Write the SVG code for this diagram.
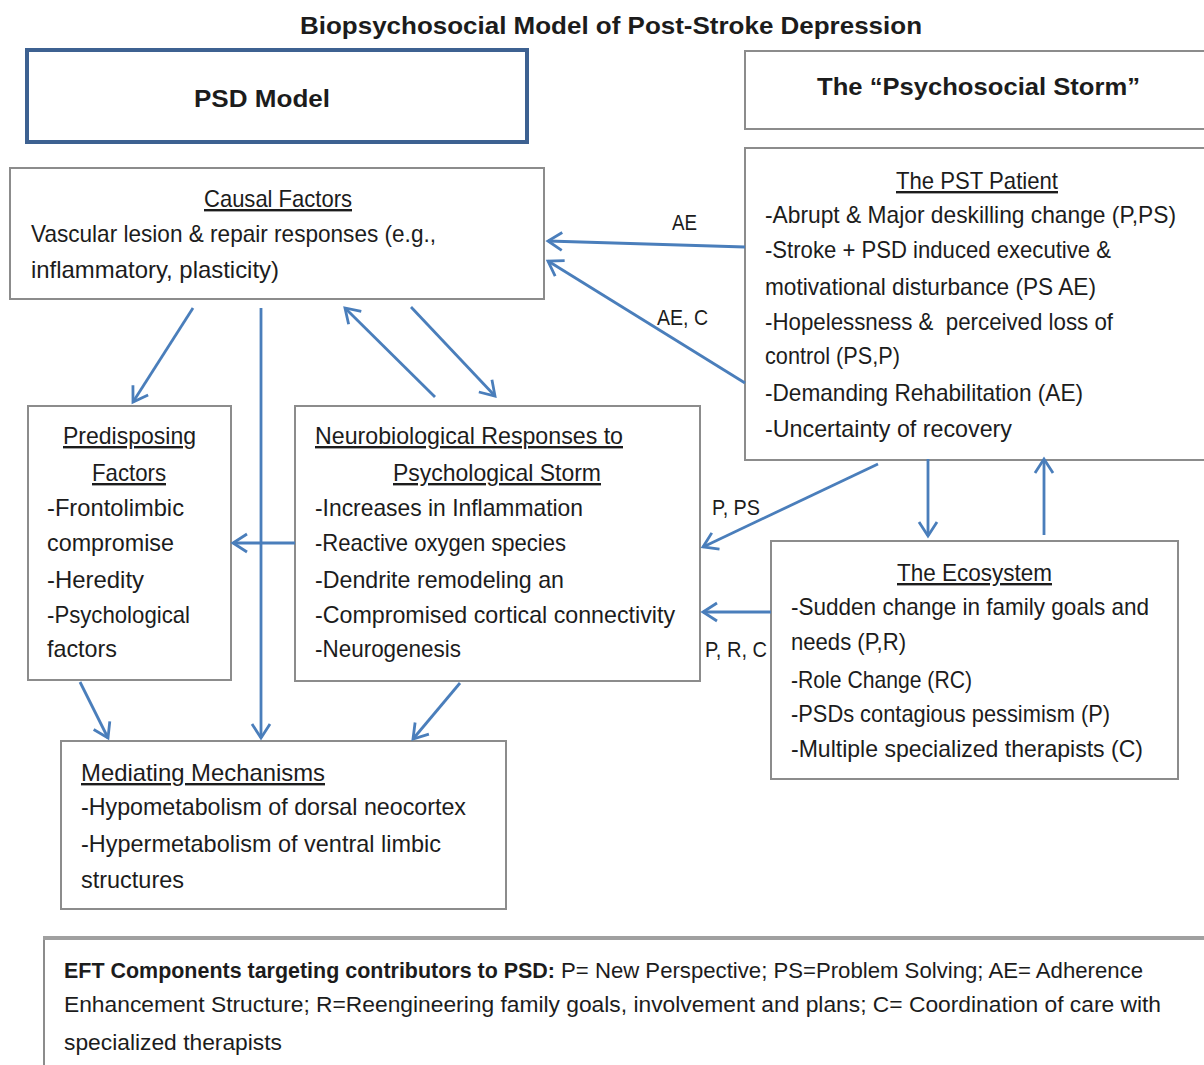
<svg xmlns="http://www.w3.org/2000/svg" width="1204" height="1065" viewBox="0 0 1204 1065">
<defs>
<style>
text{font-family:"Liberation Sans",Arial,sans-serif;font-size:24px;fill:#1c1c1c}
.b{font-weight:bold}
.u{text-decoration:underline}
.box{fill:#fff;stroke:#8c8c8c;stroke-width:2}
.c{fill:none;stroke:#4a7ebb;stroke-width:2.8;marker-end:url(#ah)}
.lbl{font-size:22px}
.eft{font-size:22px}
</style>
<marker id="ah" markerUnits="userSpaceOnUse" viewBox="-16 -12 20 24" markerWidth="20" markerHeight="24" refX="0" refY="0" orient="auto">
<path d="M-14,-9 L0,0 L-14,9" fill="none" stroke="#4a7ebb" stroke-width="2.8"/>
</marker>
</defs>
<rect width="1204" height="1065" fill="#fff"/>

<text id="title" class="b" x="300" y="34" font-size="27" textLength="622" lengthAdjust="spacingAndGlyphs">Biopsychosocial Model of Post-Stroke Depression</text>

<g id="psd-model">
<rect x="27" y="50" width="500" height="92" fill="#fff" stroke="#3d6191" stroke-width="4"/>
<text class="b" x="194" y="107" font-size="29" textLength="136" lengthAdjust="spacingAndGlyphs">PSD Model</text>
</g>

<g id="psychosocial-storm">
<path d="M1204,51 H745 V129 H1204" class="box"/>
<text class="b" x="817" y="95" font-size="29" textLength="323" lengthAdjust="spacingAndGlyphs">The “Psychosocial Storm”</text>
</g>

<g id="causal-factors">
<rect x="10" y="168" width="534" height="131" class="box"/>
<text class="u" x="204" y="207" textLength="148" lengthAdjust="spacingAndGlyphs">Causal Factors</text>
<text x="31" y="242" textLength="405" lengthAdjust="spacingAndGlyphs">Vascular lesion &amp; repair responses (e.g.,</text>
<text x="31" y="278" textLength="248" lengthAdjust="spacingAndGlyphs">inflammatory, plasticity)</text>
</g>

<g id="pst-patient">
<path d="M1204,148 H745 V460 H1204" class="box"/>
<text class="u" x="896" y="189" textLength="162" lengthAdjust="spacingAndGlyphs">The PST Patient</text>
<text x="765" y="223" textLength="411" lengthAdjust="spacingAndGlyphs">-Abrupt &amp; Major deskilling change (P,PS)</text>
<text x="765" y="258" textLength="346" lengthAdjust="spacingAndGlyphs">-Stroke + PSD induced executive &amp;</text>
<text x="765" y="295" textLength="331" lengthAdjust="spacingAndGlyphs">motivational disturbance (PS AE)</text>
<text x="765" y="330" textLength="348" lengthAdjust="spacingAndGlyphs" xml:space="preserve">-Hopelessness &amp;  perceived loss of</text>
<text x="765" y="364" textLength="135" lengthAdjust="spacingAndGlyphs">control (PS,P)</text>
<text x="765" y="401" textLength="318" lengthAdjust="spacingAndGlyphs">-Demanding Rehabilitation (AE)</text>
<text x="765" y="437" textLength="247" lengthAdjust="spacingAndGlyphs">-Uncertainty of recovery</text>
</g>

<g id="predisposing-factors">
<rect x="28" y="406" width="203" height="274" class="box"/>
<text class="u" x="63" y="444" textLength="133" lengthAdjust="spacingAndGlyphs">Predisposing</text>
<text class="u" x="92" y="481" textLength="74" lengthAdjust="spacingAndGlyphs">Factors</text>
<text x="47" y="516" textLength="137" lengthAdjust="spacingAndGlyphs">-Frontolimbic</text>
<text x="47" y="551" textLength="127" lengthAdjust="spacingAndGlyphs">compromise</text>
<text x="47" y="588" textLength="97" lengthAdjust="spacingAndGlyphs">-Heredity</text>
<text x="47" y="623" textLength="143" lengthAdjust="spacingAndGlyphs">-Psychological</text>
<text x="47" y="657" textLength="70" lengthAdjust="spacingAndGlyphs">factors</text>
</g>

<g id="neurobiological-responses">
<rect x="295" y="406" width="405" height="275" class="box"/>
<text class="u" x="315" y="444" textLength="308" lengthAdjust="spacingAndGlyphs">Neurobiological Responses to</text>
<text class="u" x="393" y="481" textLength="208" lengthAdjust="spacingAndGlyphs">Psychological Storm</text>
<text x="315" y="516" textLength="268" lengthAdjust="spacingAndGlyphs">-Increases in Inflammation</text>
<text x="315" y="551" textLength="251" lengthAdjust="spacingAndGlyphs">-Reactive oxygen species</text>
<text x="315" y="588" textLength="249" lengthAdjust="spacingAndGlyphs">-Dendrite remodeling an</text>
<text x="315" y="623" textLength="360" lengthAdjust="spacingAndGlyphs">-Compromised cortical connectivity</text>
<text x="315" y="657" textLength="146" lengthAdjust="spacingAndGlyphs">-Neurogenesis</text>
</g>

<g id="ecosystem">
<rect x="771" y="541" width="407" height="238" class="box"/>
<text class="u" x="897" y="581" textLength="155" lengthAdjust="spacingAndGlyphs">The Ecosystem</text>
<text x="791" y="615" textLength="358" lengthAdjust="spacingAndGlyphs">-Sudden change in family goals and</text>
<text x="791" y="650" textLength="115" lengthAdjust="spacingAndGlyphs">needs (P,R)</text>
<text x="791" y="688" textLength="181" lengthAdjust="spacingAndGlyphs">-Role Change (RC)</text>
<text x="791" y="722" textLength="319" lengthAdjust="spacingAndGlyphs">-PSDs contagious pessimism (P)</text>
<text x="791" y="757" textLength="352" lengthAdjust="spacingAndGlyphs">-Multiple specialized therapists (C)</text>
</g>

<g id="mediating-mechanisms">
<rect x="61" y="741" width="445" height="168" class="box"/>
<text class="u" x="81" y="781" textLength="244" lengthAdjust="spacingAndGlyphs">Mediating Mechanisms</text>
<text x="81" y="815" textLength="385" lengthAdjust="spacingAndGlyphs">-Hypometabolism of dorsal neocortex</text>
<text x="81" y="852" textLength="360" lengthAdjust="spacingAndGlyphs">-Hypermetabolism of ventral limbic</text>
<text x="81" y="888" textLength="103" lengthAdjust="spacingAndGlyphs">structures</text>
</g>

<g id="eft-legend">
<path d="M44,1065 V938" fill="none" stroke="#8c8c8c" stroke-width="2"/>
<line x1="43" y1="938" x2="1204" y2="938" stroke="#a0a0a0" stroke-width="4"/>
<text class="eft" x="64" y="978"><tspan class="b" textLength="491" lengthAdjust="spacingAndGlyphs">EFT Components targeting contributors to PSD:</tspan><tspan x="561" textLength="582" lengthAdjust="spacingAndGlyphs">P= New Perspective; PS=Problem Solving; AE= Adherence</tspan></text>
<text class="eft" x="64" y="1012" textLength="1097" lengthAdjust="spacingAndGlyphs">Enhancement Structure; R=Reengineering family goals, involvement and plans; C= Coordination of care with</text>
<text class="eft" x="64" y="1050" textLength="218" lengthAdjust="spacingAndGlyphs">specialized therapists</text>
</g>

<g id="connectors">
<line class="c" x1="745" y1="247" x2="548" y2="241"/>
<line class="c" x1="745" y1="383" x2="548" y2="261"/>
<line class="c" x1="193" y1="308" x2="133" y2="402"/>
<line class="c" x1="261" y1="308" x2="261" y2="738"/>
<line class="c" x1="435" y1="397" x2="345" y2="308"/>
<line class="c" x1="411" y1="307" x2="495" y2="396"/>
<line class="c" x1="295" y1="543" x2="233" y2="543"/>
<line class="c" x1="80" y1="682" x2="108" y2="738"/>
<line class="c" x1="460" y1="683" x2="413" y2="739"/>
<line class="c" x1="878" y1="464" x2="703" y2="547"/>
<line class="c" x1="928" y1="459" x2="928" y2="536"/>
<line class="c" x1="1044" y1="535" x2="1044" y2="459"/>
<line class="c" x1="771" y1="612" x2="703" y2="612"/>
<text class="lbl" x="672" y="230" textLength="25" lengthAdjust="spacingAndGlyphs">AE</text>
<text class="lbl" x="657" y="325" textLength="51" lengthAdjust="spacingAndGlyphs">AE, C</text>
<text class="lbl" x="712" y="515" textLength="48" lengthAdjust="spacingAndGlyphs">P, PS</text>
<text class="lbl" x="705" y="657" textLength="62" lengthAdjust="spacingAndGlyphs">P, R, C</text>
</g>
</svg>
